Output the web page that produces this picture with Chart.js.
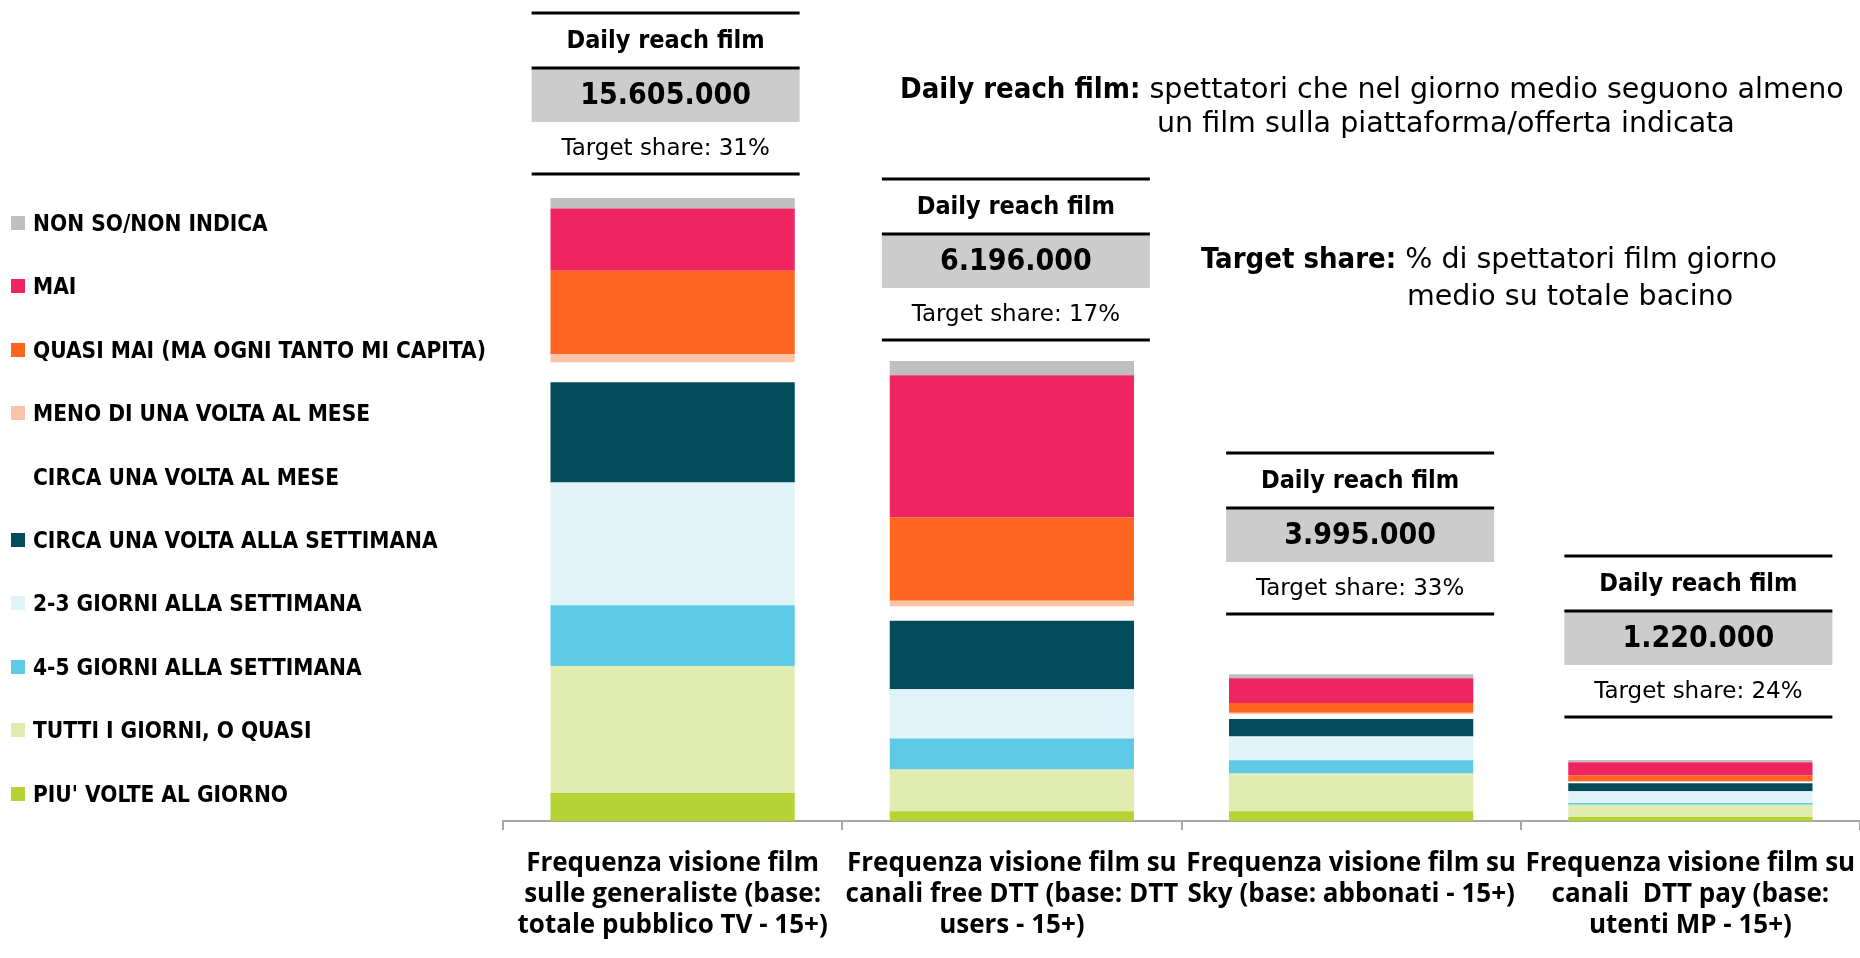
<!DOCTYPE html>
<html>
<head>
<meta charset="utf-8">
<script src="https://cdn.jsdelivr.net/npm/chart.js@4.4.1/dist/chart.umd.min.js"></script>
<style>
  html, body { margin: 0; padding: 0; background: #fff; }
  #wrap { position: relative; width: 1860px; height: 958px; overflow: hidden; }
  #chart { position: absolute; left: 0; top: 0; }
  #legend { position: absolute; left: 11px; top: 0; font-family: 'DejaVu Sans Condensed', 'DejaVu Sans', sans-serif; font-weight: bold; font-size: 22.5px; color: #000; }
  .lg-item { position: absolute; left: 0; height: 26px; white-space: nowrap; display: flex; align-items: center; }
  .lg-box { width: 14px; height: 14px; margin-right: 8px; flex: none; }
  .note { position: absolute; font-family: 'DejaVu Sans', sans-serif; font-size: 28.5px; line-height: 36px; white-space: nowrap; color: #000; }
  .note b { font-family: 'DejaVu Sans Condensed', 'DejaVu Sans', sans-serif; font-weight: bold; font-size: 29px; }
</style>
</head>
<body>
<div id="wrap">
  <canvas id="chart" width="1860" height="958"></canvas>
  <div id="legend"></div>
  <div class="note" style="left:900px; top:70px;"><b>Daily reach film:</b> spettatori che nel giorno medio seguono almeno</div>
  <div class="note" style="left:1157px; top:105px;">un film sulla piattaforma/offerta indicata</div>
  <div class="note" style="left:1201px; top:240px;"><b>Target share:</b> % di spettatori film giorno</div>
  <div class="note" style="left:1407px; top:278px;">medio su totale bacino</div>
</div>
<script>
// categorie (etichette asse x)
const categories = [
  ['Frequenza visione film', 'sulle generaliste (base:', 'totale pubblico TV - 15+)'],
  ['Frequenza visione film su', 'canali free DTT (base: DTT', 'users - 15+)'],
  ['Frequenza visione film su', 'Sky (base: abbonati - 15+)'],
  ['Frequenza visione film su', 'canali  DTT pay (base:', 'utenti MP - 15+)']
];

// serie (milioni di spettatori), dal basso verso l'alto
const seriesLabels = [
  "PIU' VOLTE AL GIORNO",
  'TUTTI I GIORNI, O QUASI',
  '4-5 GIORNI ALLA SETTIMANA',
  '2-3 GIORNI ALLA SETTIMANA',
  'CIRCA UNA VOLTA ALLA SETTIMANA',
  'CIRCA UNA VOLTA AL MESE',
  'MENO DI UNA VOLTA AL MESE',
  'QUASI MAI (MA OGNI TANTO MI CAPITA)',
  'MAI',
  'NON SO/NON INDICA'
];
const piuVolte      = [2.27, 0.79, 0.78, 0.32];
const tuttiGiorni   = [10.25, 3.37, 3.05, 0.99];
const quattroCinque = [4.91, 2.50, 1.07, 0.14];
const dueTre        = [9.91, 3.98, 1.92, 0.96];
const settimana     = [8.09, 5.54, 1.41, 0.64];
const mese          = [1.59, 1.15, 0.40, 0.11];
const menoMese      = [0.68, 0.46, 0.11, 0.03];
const quasiMai      = [6.73, 6.71, 0.78, 0.48];
const mai           = [5.04, 11.50, 2.00, 1.07];
const nonSo         = [0.85, 1.15, 0.34, 0.18];

// riquadri sopra le barre
const dailyReach  = ['15.605.000', '6.196.000', '3.995.000', '1.220.000'];
const targetShare = ['31%', '17%', '33%', '24%'];

const seriesValues = [piuVolte, tuttiGiorni, quattroCinque, dueTre, settimana, mese, menoMese, quasiMai, mai, nonSo];
const colors = ['#b6d335', '#e1ecb0', '#5ecae6', '#dff3f9', '#024c5c', '#ffffff', '#fdc3a7', '#fd6520', '#ef2562', '#bfbfbf'];

// posizione dei riquadri (px)
const boxTop = [13, 179, 453, 556];
const boxShift = [-7, 4, 9, 8];
const boxWidth = 268;

// --- legenda HTML ---
const legendEl = document.getElementById('legend');
seriesLabels.slice().reverse().forEach((lbl, i) => {
    const idx = seriesLabels.length - 1 - i;
    const item = document.createElement('div');
    item.className = 'lg-item';
    item.style.top = (223 + i * 63.4 - 13) + 'px';
    item.innerHTML = `<span class="lg-box" style="background:${colors[idx]}"></span><span>${lbl}</span>`;
    legendEl.appendChild(item);
});

// --- riquadri Daily reach / Target share ---
const boxesPlugin = {
    id: 'reachBoxes',
    afterDraw(chart) {
        const ctx = chart.ctx;
        const meta = chart.getDatasetMeta(0);
        ctx.save();
        meta.data.forEach((bar, i) => {
            const cx = bar.x + boxShift[i];
            const x0 = cx - boxWidth / 2;
            const t = boxTop[i];
            ctx.fillStyle = '#cccccc';
            ctx.fillRect(x0, t + 55, boxWidth, 54);
            ctx.strokeStyle = '#000';
            ctx.lineWidth = 3;
            [t, t + 55, t + 161].forEach(y => {
                ctx.beginPath();
                ctx.moveTo(x0, y);
                ctx.lineTo(x0 + boxWidth, y);
                ctx.stroke();
            });
            ctx.fillStyle = '#000';
            ctx.textAlign = 'center';
            ctx.textBaseline = 'middle';
            ctx.font = 'bold 25px "DejaVu Sans Condensed", "DejaVu Sans", sans-serif';
            ctx.fillText('Daily reach film', cx, t + 28);
            ctx.font = 'bold 30px "DejaVu Sans Condensed", "DejaVu Sans", sans-serif';
            ctx.fillText(dailyReach[i], cx, t + 83);
            ctx.font = '23px "DejaVu Sans", sans-serif';
            ctx.fillText('Target share: ' + targetShare[i], cx, t + 136);
        });
        ctx.restore();
    }
};

const ctx = document.getElementById('chart').getContext('2d');
const chart = new Chart(ctx, {
    type: 'bar',
    data: {
        labels: categories,
        datasets: seriesValues.map((vals, i) => ({
            label: seriesLabels[i],
            data: vals,
            backgroundColor: colors[i],
            borderWidth: 0,
            barPercentage: 0.72,
            categoryPercentage: 1.0
        }))
    },
    options: {
        responsive: false,
        animation: false,
        layout: { padding: { left: 503, right: 0, top: 0, bottom: 0 } },
        plugins: { legend: { display: false }, tooltip: { enabled: false } },
        scales: {
            x: {
                stacked: true,
                border: { display: true, color: '#a6a6a6', width: 2 },
                grid: { display: true, drawOnChartArea: false, drawTicks: true, tickLength: 9, color: '#a6a6a6', lineWidth: 2 },
                ticks: {
                    color: '#000', autoSkip: false, maxRotation: 0, padding: 18,
                    font: { family: 'Open Sans', weight: 'bold', size: 26, lineHeight: '31px' }
                },
                afterFit(scale) {
                    scale.height = 137;
                    // le etichette possono uscire dai bordi come nell'originale
                    scale.paddingLeft = 0;
                    scale.paddingRight = 0;
                }
            },
            y: {
                stacked: true, display: false, min: 0, max: 66.3
            }
        }
    },
    plugins: [boxesPlugin]
});
</script>
</body>
</html>
